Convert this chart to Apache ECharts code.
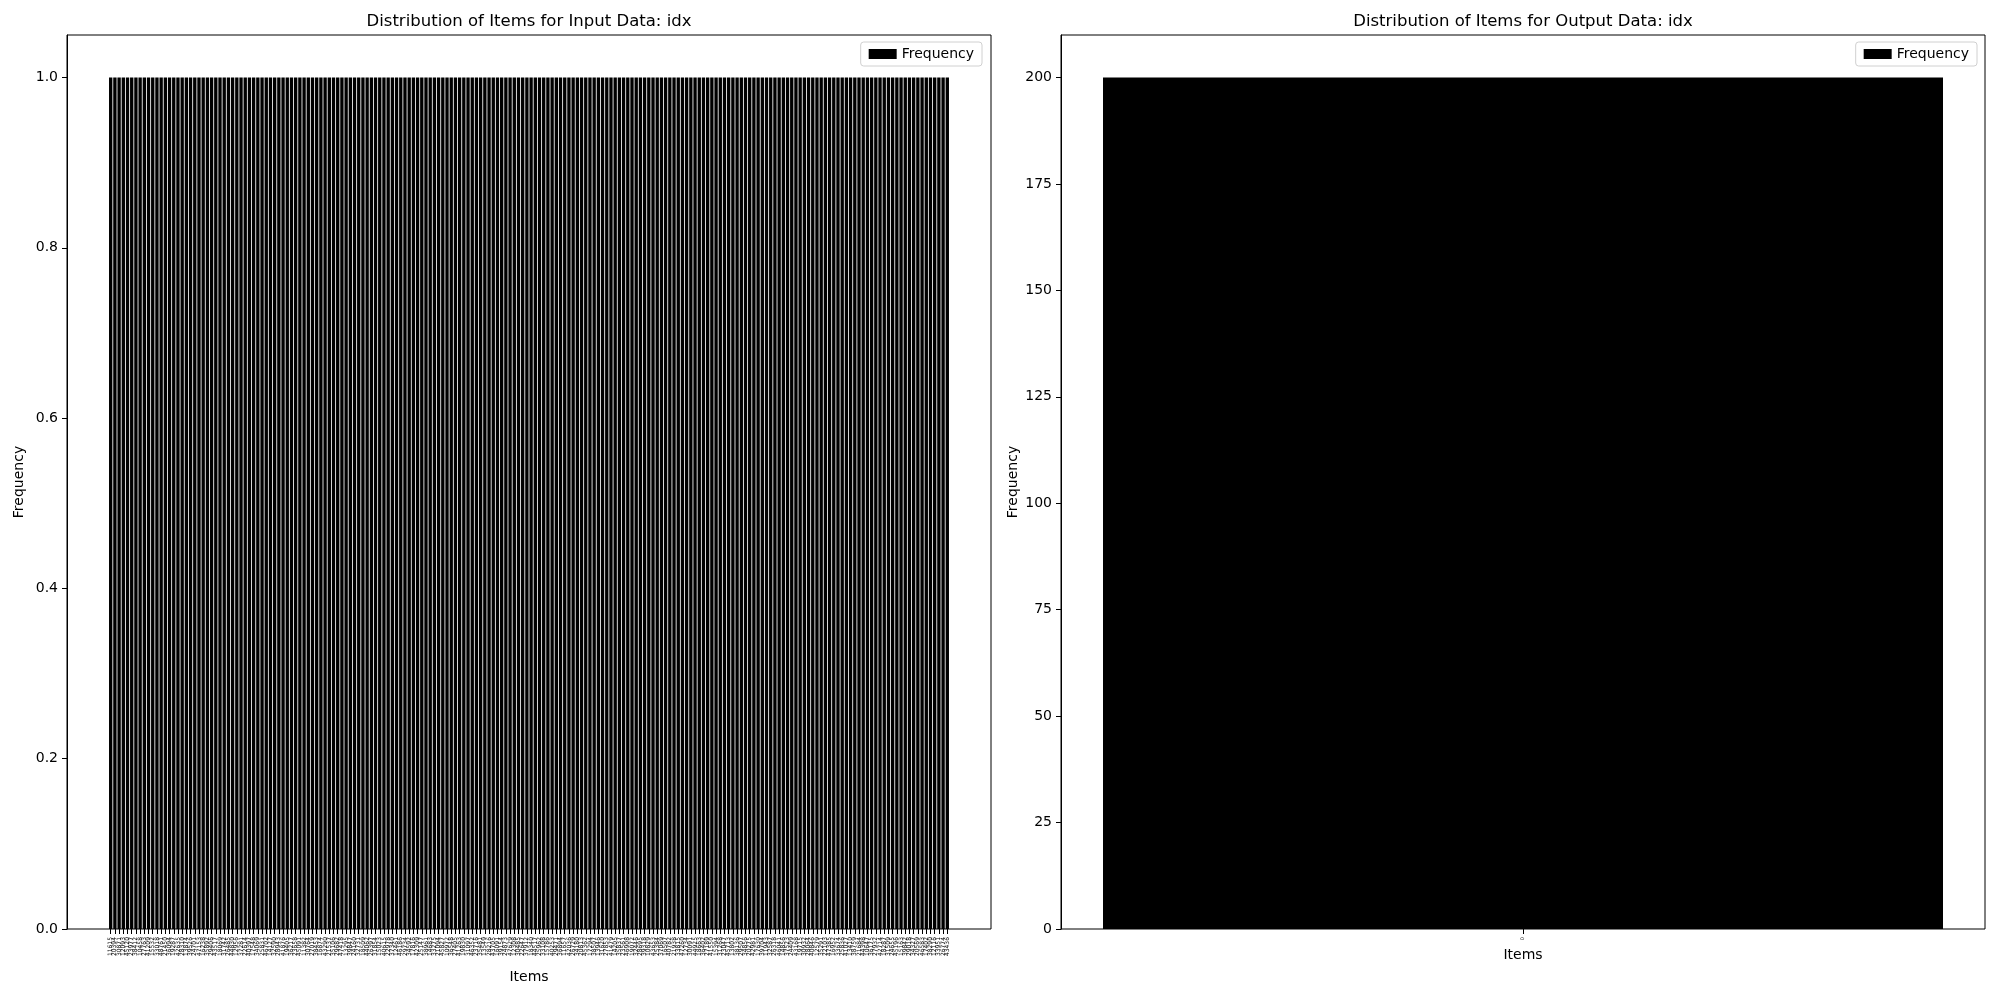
<!DOCTYPE html>
<html>
<head>
<meta charset="utf-8">
<script src="https://cdn.jsdelivr.net/npm/echarts@6/dist/echarts.min.js"></script>
<style>html,body{margin:0;padding:0;background:#fff}#c{width:2000px;height:1000px}</style>
</head>
<body>
<div id="c"></div>
<script>
// Input data: idx categories (tick labels too small to read; estimated)
const inputCategories = (
"11615 20394 30871 12093 45120 23977 38412 10458 27763 41209 " +
"15532 33018 48761 21450 36094 19287 42635 28310 13874 39526 " +
"24701 47153 16238 35892 29406 43517 18069 31742 26485 44830 " +
"12956 37281 22614 40397 17548 34069 25831 46702 14127 32590 " +
"28943 41876 19405 36217 23658 45091 11382 30764 27019 38453 " +
"16874 43290 21537 35106 29682 47418 13295 39847 24160 32731 " +
"18509 44062 26397 31854 15023 40615 22978 37340 12461 46186 " +
"29734 34592 17816 42309 25147 38961 14683 33275 21094 45827 " +
"10972 36548 27405 41263 19830 31097 46352 23716 35481 13549 " +
"28216 43705 16091 39154 24873 47629 12308 30485 22647 37912 " +
"18340 44517 25962 33108 15786 40253 29471 36894 11657 42036 " +
"26729 34180 20813 45362 17294 38507 13946 31620 27853 41479 " +
"14205 35837 23561 46908 19072 32446 28695 39318 10829 43653 " +
"25384 37069 16507 40782 21938 33815 47260 12734 30091 44925 " +
"18663 36402 27189 41550 15394 31268 23047 45713 13802 38136 " +
"29507 34856 20275 42981 17630 39704 11943 32587 26318 46041 " +
"14856 37523 24409 43168 19715 30932 28064 40846 12579 35291 " +
"22103 47385 16952 33674 25836 41027 13410 38759 21684 44398 " +
"10647 36175 27932 42714 18287 31509 24655 45196 15163 39842 " +
"29018 34327 20569 46583 17402 38290 12116 33951 26774 43436").split(" ");

const inputFrequency = [
1,1,1,1,1,1,1,1,1,1, 1,1,1,1,1,1,1,1,1,1, 1,1,1,1,1,1,1,1,1,1, 1,1,1,1,1,1,1,1,1,1,
1,1,1,1,1,1,1,1,1,1, 1,1,1,1,1,1,1,1,1,1, 1,1,1,1,1,1,1,1,1,1, 1,1,1,1,1,1,1,1,1,1,
1,1,1,1,1,1,1,1,1,1, 1,1,1,1,1,1,1,1,1,1, 1,1,1,1,1,1,1,1,1,1, 1,1,1,1,1,1,1,1,1,1,
1,1,1,1,1,1,1,1,1,1, 1,1,1,1,1,1,1,1,1,1, 1,1,1,1,1,1,1,1,1,1, 1,1,1,1,1,1,1,1,1,1,
1,1,1,1,1,1,1,1,1,1, 1,1,1,1,1,1,1,1,1,1, 1,1,1,1,1,1,1,1,1,1, 1,1,1,1,1,1,1,1,1,1
];

const outputCategories = ["0"];
const outputFrequency = [200];

const inputYTicks = [0, 0.2, 0.4, 0.6, 0.8, 1.0];
const outputYTicks = [0, 25, 50, 75, 100, 125, 150, 175, 200];

const FONT = "DejaVu Sans";
const chart = echarts.init(document.getElementById('c'), null, {renderer: 'canvas'});

function yAxisVisible(grid, max, ticks, fmt) {
  return {
    type: 'value', gridIndex: grid, min: 0, max: max,
    axisLine: {show: true, lineStyle: {color: '#000', width: 1}},
    axisTick: {show: true, length: 5, customValues: ticks, lineStyle: {color: '#000'}},
    axisLabel: {customValues: ticks, formatter: fmt, color: '#000', fontFamily: FONT, fontSize: 14, margin: 9},
    splitLine: {show: false},
    name: 'Frequency', nameLocation: 'middle', nameGap: 41, nameRotate: 90,
    nameTextStyle: {color: '#000', fontFamily: FONT, fontSize: 14}
  };
}
function yAxisHidden(grid, max) {
  return {type: 'value', gridIndex: grid, min: 0, max: max, show: false, splitLine: {show: false}};
}
function legendAt(right) {
  return {
    right: right, top: 42, orient: 'horizontal',
    data: ['Frequency'], itemWidth: 28, itemHeight: 10, itemGap: 8,
    padding: [5, 8, 5, 8], borderColor: '#d0d0d0', borderWidth: 1, borderRadius: 3,
    backgroundColor: 'rgba(255,255,255,0.8)',
    textStyle: {color: '#000', fontFamily: FONT, fontSize: 14},
    icon: 'rect', selectedMode: false
  };
}

const option = {
  animation: false,
  backgroundColor: '#fff',
  title: [
    {text: 'Distribution of Items for Input Data: idx', left: 529, top: 13, textAlign: 'center', padding: 0,
     textStyle: {fontFamily: FONT, fontSize: 16.5, fontWeight: 'normal', color: '#000'}},
    {text: 'Distribution of Items for Output Data: idx', left: 1523, top: 13, textAlign: 'center', padding: 0,
     textStyle: {fontFamily: FONT, fontSize: 16.5, fontWeight: 'normal', color: '#000'}}
  ],
  legend: [legendAt(1018), legendAt(23)],
  grid: [
    {left: 67, top: 35, width: 924, height: 894, show: true, borderColor: '#000', borderWidth: 1, backgroundColor: 'transparent'},
    {left: 108.6, top: 35, width: 840.8, height: 894},
    {left: 1061, top: 35, width: 924, height: 894, show: true, borderColor: '#000', borderWidth: 1, backgroundColor: 'transparent'},
    {left: 1061, top: 35, width: 924, height: 894}
  ],
  xAxis: [
    {type: 'value', gridIndex: 0, show: false, min: 0, max: 1, splitLine: {show: false}},
    {type: 'category', gridIndex: 1, data: inputCategories,
     axisLine: {show: false},
     axisTick: {show: true, interval: 0, alignWithLabel: true, length: 5, lineStyle: {color: '#000'}},
     axisLabel: {interval: 0, rotate: 90, fontSize: 6, fontFamily: FONT, color: '#000', margin: 8},
     name: 'Items', nameLocation: 'middle', nameGap: 41,
     nameTextStyle: {color: '#000', fontFamily: FONT, fontSize: 14}},
    {type: 'value', gridIndex: 2, show: false, min: 0, max: 1, splitLine: {show: false}},
    {type: 'category', gridIndex: 3, data: outputCategories,
     axisLine: {show: false},
     axisTick: {show: true, interval: 0, alignWithLabel: true, length: 5, lineStyle: {color: '#000'}},
     axisLabel: {interval: 0, rotate: 90, fontSize: 5, fontFamily: FONT, color: '#000', margin: 8},
     name: 'Items', nameLocation: 'middle', nameGap: 18,
     nameTextStyle: {color: '#000', fontFamily: FONT, fontSize: 14}}
  ],
  yAxis: [
    yAxisVisible(0, 1.05, inputYTicks, v => Number(v).toFixed(1)),
    yAxisHidden(1, 1.05),
    yAxisVisible(2, 210, outputYTicks, v => String(v)),
    yAxisHidden(3, 210)
  ],
  series: [
    {type: 'bar', name: 'Frequency', xAxisIndex: 1, yAxisIndex: 1, data: inputFrequency,
     barWidth: '80%', itemStyle: {color: '#000'}},
    {type: 'bar', name: 'Frequency', xAxisIndex: 3, yAxisIndex: 3, data: outputFrequency,
     barWidth: 840, itemStyle: {color: '#000'}}
  ]
};
chart.setOption(option);
</script>
</body>
</html>
